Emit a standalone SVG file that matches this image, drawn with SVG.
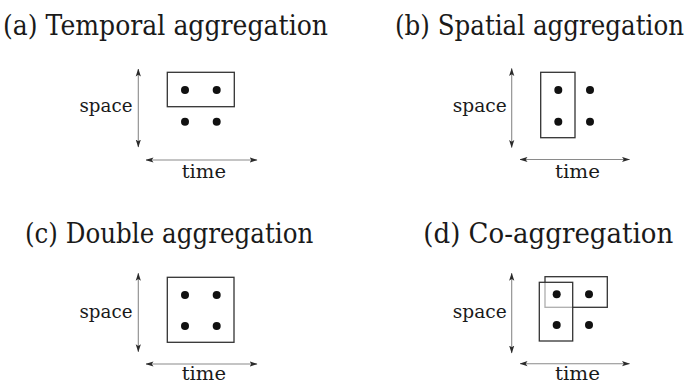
<svg xmlns="http://www.w3.org/2000/svg" width="691" height="384" viewBox="0 0 691 384">
<style>
.title{font-size:27px;fill:#1a1a1a}
.lab{font-size:19px;fill:#1a1a1a}
.ax{stroke:#8a8a8a;stroke-width:1.1;fill:none}
.box{stroke:#333;stroke-width:1.3;fill:none}
.dot{fill:#111}
</style>
<defs>
<marker id="ah" viewBox="0 0 8 6" refX="7.5" refY="3" markerWidth="8" markerHeight="6" markerUnits="userSpaceOnUse" orient="auto-start-reverse">
<path d="M0,0.4 L8,3 L0,5.6 L1.8,3 Z" fill="#2a2a2a"/>
</marker>
</defs>
<rect width="691" height="384" fill="#fff"/>
<g id="connectors">
<line class="ax" x1="138.3" y1="69" x2="138.3" y2="147" marker-start="url(#ah)" marker-end="url(#ah)"/>
<line class="ax" x1="146" y1="160" x2="257" y2="160" marker-start="url(#ah)" marker-end="url(#ah)"/>
<line class="ax" x1="511.7" y1="68.5" x2="511.7" y2="147.5" marker-start="url(#ah)" marker-end="url(#ah)"/>
<line class="ax" x1="520" y1="159.5" x2="629.5" y2="159.5" marker-start="url(#ah)" marker-end="url(#ah)"/>
<line class="ax" x1="138.3" y1="273.3" x2="138.3" y2="351.7" marker-start="url(#ah)" marker-end="url(#ah)"/>
<line class="ax" x1="146" y1="364" x2="257" y2="364" marker-start="url(#ah)" marker-end="url(#ah)"/>
<line class="ax" x1="511.7" y1="273.3" x2="511.7" y2="353" marker-start="url(#ah)" marker-end="url(#ah)"/>
<line class="ax" x1="520" y1="363.7" x2="629.5" y2="363.7" marker-start="url(#ah)" marker-end="url(#ah)"/>
</g>
<g font-family="DejaVu Serif, Liberation Serif, Noto Serif, serif">
<g id="panel-a">
<text class="title" x="3" y="35" textLength="325" lengthAdjust="spacingAndGlyphs">(a) Temporal aggregation</text>
<text class="lab" x="79.5" y="111.5" textLength="53" lengthAdjust="spacingAndGlyphs">space</text>
<text class="lab" x="181.7" y="178" textLength="44.3" lengthAdjust="spacingAndGlyphs">time</text>
<rect class="box" x="167.3" y="72.3" width="67" height="34.4"/>
<circle class="dot" cx="185" cy="90" r="4"/>
<circle class="dot" cx="216.7" cy="90" r="4"/>
<circle class="dot" cx="185" cy="121.7" r="4"/>
<circle class="dot" cx="216.7" cy="121.7" r="4"/>
</g>
<g id="panel-b">
<text class="title" x="395" y="35" textLength="289" lengthAdjust="spacingAndGlyphs">(b) Spatial aggregation</text>
<text class="lab" x="452.7" y="112" textLength="54" lengthAdjust="spacingAndGlyphs">space</text>
<text class="lab" x="555" y="178" textLength="45" lengthAdjust="spacingAndGlyphs">time</text>
<rect class="box" x="540.7" y="72.3" width="34.3" height="65.4"/>
<circle class="dot" cx="558.3" cy="90" r="4"/>
<circle class="dot" cx="590" cy="90" r="4"/>
<circle class="dot" cx="558.3" cy="121.7" r="4"/>
<circle class="dot" cx="590" cy="121.7" r="4"/>
</g>
<g id="panel-c">
<text class="title" x="25" y="243" textLength="288.3" lengthAdjust="spacingAndGlyphs">(c) Double aggregation</text>
<text class="lab" x="79.5" y="317.5" textLength="53" lengthAdjust="spacingAndGlyphs">space</text>
<text class="lab" x="181.7" y="380" textLength="44.3" lengthAdjust="spacingAndGlyphs">time</text>
<rect class="box" x="167.3" y="277.3" width="66.7" height="65"/>
<circle class="dot" cx="185" cy="295" r="4"/>
<circle class="dot" cx="216.7" cy="295" r="4"/>
<circle class="dot" cx="185" cy="326" r="4"/>
<circle class="dot" cx="216.7" cy="326" r="4"/>
</g>
<g id="panel-d">
<text class="title" x="423.3" y="243" textLength="250" lengthAdjust="spacingAndGlyphs">(d) Co-aggregation</text>
<text class="lab" x="452.7" y="317.5" textLength="54" lengthAdjust="spacingAndGlyphs">space</text>
<text class="lab" x="555" y="380" textLength="45" lengthAdjust="spacingAndGlyphs">time</text>
<rect class="box" x="545" y="276.7" width="62.3" height="30.6"/>
<rect x="539.3" y="282.3" width="33.4" height="58.7" fill="#fff" fill-opacity="0.6" stroke="#333" stroke-width="1.3"/>
<circle class="dot" cx="556.7" cy="294.3" r="4"/>
<circle class="dot" cx="589" cy="294.3" r="4"/>
<circle class="dot" cx="556.7" cy="325" r="4"/>
<circle class="dot" cx="589" cy="325" r="4"/>
</g>
</g>
</svg>
